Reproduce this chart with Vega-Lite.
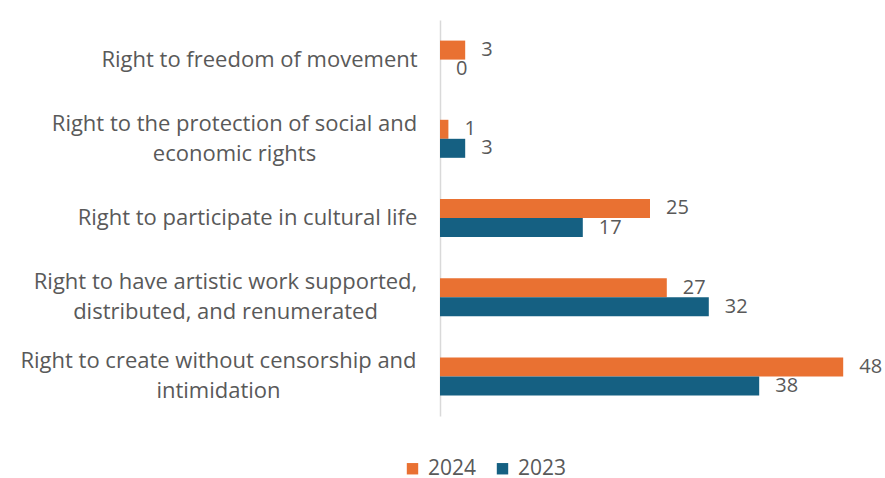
{
  "$schema": "https://vega.github.io/schema/vega-lite/v6.json",
  "width": 420,
  "height": 396,
  "autosize": "none",
  "padding": {"left": 440, "top": 20, "right": 25, "bottom": 62},
  "background": "white",
  "config": {"view": {"stroke": null}, "font": "Open Sans"},
  "data": {
    "values": [
      {"right": "Right to freedom of movement", "year": "2024", "value": 3},
      {"right": "Right to freedom of movement", "year": "2023", "value": 0},
      {"right": "Right to the protection of social and economic rights", "year": "2024", "value": 1},
      {"right": "Right to the protection of social and economic rights", "year": "2023", "value": 3},
      {"right": "Right to participate in cultural life", "year": "2024", "value": 25},
      {"right": "Right to participate in cultural life", "year": "2023", "value": 17},
      {"right": "Right to have artistic work supported, distributed, and renumerated", "year": "2024", "value": 27},
      {"right": "Right to have artistic work supported, distributed, and renumerated", "year": "2023", "value": 32},
      {"right": "Right to create without censorship and intimidation", "year": "2024", "value": 48},
      {"right": "Right to create without censorship and intimidation", "year": "2023", "value": 38}
    ]
  },
  "encoding": {
    "y": {
      "field": "right",
      "type": "nominal",
      "sort": [
        "Right to freedom of movement",
        "Right to the protection of social and economic rights",
        "Right to participate in cultural life",
        "Right to have artistic work supported, distributed, and renumerated",
        "Right to create without censorship and intimidation"
      ],
      "scale": {"paddingInner": 0.52, "paddingOuter": 0.26},
      "axis": {
        "title": null,
        "ticks": false,
        "tickSize": 0,
        "grid": false,
        "domainColor": "#d9d9d9",
        "domainWidth": 1.5,
        "labelPadding": {
          "condition": [
            {"test": "datum.value == 'Right to freedom of movement'", "value": 181},
            {"test": "datum.value == 'Right to the protection of social and economic rights'", "value": 206},
            {"test": "datum.value == 'Right to participate in cultural life'", "value": 193},
            {"test": "datum.value == 'Right to have artistic work supported, distributed, and renumerated'", "value": 215}
          ],
          "value": 222
        },
        "labelOffset": {
          "condition": {"test": "indexof(datum.value, 'movement') >= 0 || indexof(datum.value, 'cultural') >= 0", "value": 0},
          "value": -15
        },
        "labelAlign": "center",
        "labelBaseline": "middle",
        "labelFontSize": 22,
        "labelColor": "#595959",
        "labelLineHeight": 30,
        "labelLimit": 0,
        "labelExpr": "datum.value == 'Right to the protection of social and economic rights' ? ['Right to the protection of social and', 'economic rights'] : datum.value == 'Right to have artistic work supported, distributed, and renumerated' ? ['Right to have artistic work supported,', 'distributed, and renumerated'] : datum.value == 'Right to create without censorship and intimidation' ? ['Right to create without censorship and', 'intimidation'] : datum.value"
      }
    },
    "yOffset": {"field": "year", "type": "nominal", "sort": ["2024", "2023"]},
    "x": {
      "field": "value",
      "type": "quantitative",
      "scale": {"domain": [0, 50]},
      "axis": null
    }
  },
  "layer": [
    {
      "mark": {"type": "bar"},
      "encoding": {
        "color": {
          "field": "year",
          "type": "nominal",
          "scale": {"domain": ["2024", "2023"], "range": ["#E97132", "#156082"]},
          "legend": {
            "title": null,
            "orient": "none",
            "direction": "horizontal",
            "legendX": -38,
            "legendY": 438,
            "padding": 0,
            "symbolType": "square",
            "symbolSize": 130,
            "symbolStrokeWidth": 0,
            "labelFontSize": 21,
            "labelColor": "#595959",
            "labelOffset": 5,
            "labelLimit": 0,
            "columnPadding": 15
          }
        }
      }
    },
    {
      "mark": {"type": "text", "align": "left", "baseline": "middle", "dx": 16, "fontSize": 20, "color": "#595959"},
      "encoding": {"text": {"field": "value", "type": "quantitative"}}
    }
  ]
}
